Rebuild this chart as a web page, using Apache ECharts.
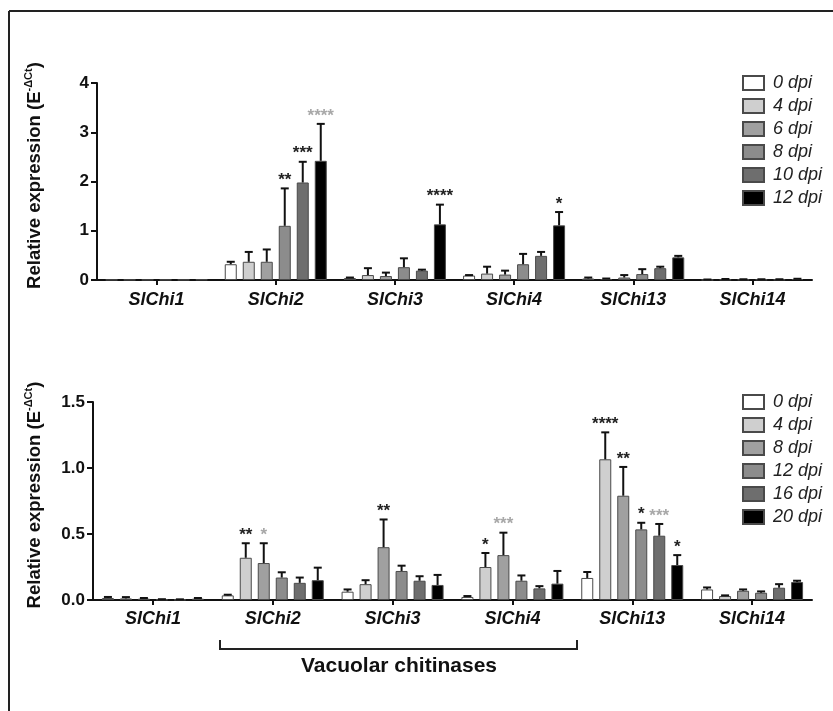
<!DOCTYPE html>
<html>
<head>
<meta charset="utf-8">
<script src="https://cdn.jsdelivr.net/npm/echarts@6/dist/echarts.min.js"></script>
<style>html,body{margin:0;padding:0;background:#fff;}#chart{width:833px;height:711px;}</style>
</head>
<body>
<div id="chart"></div>
<script>
const categories = ['SlChi1', 'SlChi2', 'SlChi3', 'SlChi4', 'SlChi13', 'SlChi14'];

const topSeriesNames = ['0 dpi', '4 dpi', '6 dpi', '8 dpi', '10 dpi', '12 dpi'];
const topValues = [
  [0.005, 0.32, 0.04, 0.09, 0.03, 0.005],
  [0.005, 0.37, 0.10, 0.13, 0.02, 0.01],
  [0.005, 0.37, 0.08, 0.11, 0.05, 0.01],
  [0.005, 1.10, 0.26, 0.32, 0.12, 0.01],
  [0.005, 1.98, 0.19, 0.49, 0.24, 0.01],
  [0.01, 2.42, 1.13, 1.11, 0.46, 0.02]
];
const topErrors = [
  [0, 0.05, 0.01, 0.01, 0.02, 0.005],
  [0, 0.20, 0.14, 0.14, 0.01, 0.01],
  [0, 0.25, 0.07, 0.08, 0.05, 0.005],
  [0, 0.76, 0.18, 0.21, 0.10, 0.005],
  [0, 0.42, 0.02, 0.08, 0.03, 0.005],
  [0, 0.75, 0.40, 0.27, 0.03, 0.005]
];
const topStars = [
  {series: 3, cat: 1, text: '**', gray: false},
  {series: 4, cat: 1, text: '***', gray: false},
  {series: 5, cat: 1, text: '****', gray: true},
  {series: 5, cat: 2, text: '****', gray: false},
  {series: 5, cat: 3, text: '*', gray: false}
];

const bottomSeriesNames = ['0 dpi', '4 dpi', '8 dpi', '12 dpi', '16 dpi', '20 dpi'];
const bottomValues = [
  [0.015, 0.035, 0.063, 0.023, 0.167, 0.08],
  [0.012, 0.32, 0.12, 0.25, 1.066, 0.03],
  [0.01, 0.28, 0.40, 0.34, 0.79, 0.07],
  [0.004, 0.17, 0.22, 0.146, 0.535, 0.055],
  [0.003, 0.13, 0.146, 0.088, 0.487, 0.093],
  [0.01, 0.15, 0.114, 0.124, 0.265, 0.136]
];
const bottomErrors = [
  [0.008, 0.005, 0.017, 0.007, 0.045, 0.015],
  [0.01, 0.11, 0.03, 0.106, 0.204, 0.005],
  [0.005, 0.15, 0.21, 0.17, 0.218, 0.01],
  [0.002, 0.04, 0.04, 0.04, 0.05, 0.01],
  [0.002, 0.04, 0.034, 0.017, 0.089, 0.027],
  [0.005, 0.095, 0.076, 0.096, 0.075, 0.01]
];
const bottomStars = [
  {series: 1, cat: 1, text: '**', gray: false},
  {series: 2, cat: 1, text: '*', gray: true},
  {series: 2, cat: 2, text: '**', gray: false},
  {series: 1, cat: 3, text: '*', gray: false},
  {series: 2, cat: 3, text: '***', gray: true},
  {series: 1, cat: 4, text: '****', gray: false},
  {series: 2, cat: 4, text: '**', gray: false},
  {series: 3, cat: 4, text: '*', gray: false},
  {series: 4, cat: 4, text: '***', gray: true},
  {series: 5, cat: 4, text: '*', gray: false}
];

const topTicks = {min: 0, max: 4, interval: 1};
const bottomTicks = {min: 0, max: 1.5, interval: 0.5};

const barColors = ['#ffffff', '#cfcfcf', '#a0a0a0', '#8c8c8c', '#6e6e6e', '#000000'];
const FONT = 'Liberation Sans, Arial, sans-serif';
const BAR_W = 12, BAR_STEP = 18;

function barSeries(names, values, prefix, axisIdx) {
  return names.map((n, i) => ({
    type: 'bar',
    name: prefix + n,
    xAxisIndex: axisIdx, yAxisIndex: axisIdx,
    barWidth: BAR_W,
    barGap: '50%',
    data: values[i],
    itemStyle: {color: barColors[i], borderColor: '#4a4a4a', borderWidth: 1},
    emphasis: {disabled: true},
    z: 2
  }));
}

function errSeries(values, errors, stars, axisIdx) {
  const data = [];
  const starList = [];
  values.forEach((row, s) => {
    row.forEach((v, c) => {
      data.push([c, s, v, errors[s][c]]);
      const st = stars.find(o => o.series === s && o.cat === c);
      starList.push(st || null);
    });
  });
  return {
    type: 'custom',
    xAxisIndex: axisIdx, yAxisIndex: axisIdx,
    encode: {x: 0, y: 2},
    data: data,
    z: 5,
    silent: true,
    renderItem: function (params, api) {
      const c = api.value(0), s = api.value(1), v = api.value(2), e = api.value(3);
      const base = api.coord([c, v]);
      const x = base[0] + (s - 2.5) * BAR_STEP;
      const yTop = api.coord([c, v + e])[1];
      const children = [];
      if (e > 0) {
        children.push({type: 'line', shape: {x1: x, y1: base[1], x2: x, y2: yTop}, style: {stroke: '#111', lineWidth: 2}});
        children.push({type: 'line', shape: {x1: x - 4, y1: yTop, x2: x + 4, y2: yTop}, style: {stroke: '#111', lineWidth: 2}});
      }
      const st = starList[params.dataIndex];
      if (st) {
        children.push({type: 'text', style: {text: st.text, x: x, y: yTop - 8, align: 'center', verticalAlign: 'middle',
          font: 'bold 17px ' + FONT, fill: st.gray ? '#a8a8a8' : '#222'}});
      }
      return {type: 'group', children: children};
    }
  };
}

function yAxisCfg(idx, ticks, gap, fmt) {
  return {
    type: 'value', gridIndex: idx,
    min: ticks.min, max: ticks.max, interval: ticks.interval,
    splitLine: {show: false},
    axisLine: {show: true, lineStyle: {color: '#111', width: 2}},
    axisTick: {show: true, length: 6, lineStyle: {color: '#111', width: 2}},
    axisLabel: {color: '#111', fontFamily: FONT, fontWeight: 'bold', fontSize: 17, margin: 8, formatter: fmt},
    name: '{a|Relative expression (E}{b|-ΔCt}{a|)}',
    nameLocation: 'middle', nameGap: gap, nameRotate: 90,
    nameTextStyle: {
      padding: [0, 0, 0, 12],
      rich: {
        a: {fontFamily: FONT, fontWeight: 'bold', fontSize: 18.5, color: '#111', lineHeight: 24},
        b: {fontFamily: FONT, fontWeight: 'bold', fontSize: 11, color: '#111', verticalAlign: 'top', lineHeight: 24, padding: [0, 0, 12, 0]}
      }
    }
  };
}

function xAxisCfg(idx, margin) {
  return {
    type: 'category', gridIndex: idx, data: categories,
    axisLine: {show: true, lineStyle: {color: '#111', width: 2}},
    axisTick: {show: true, alignWithLabel: true, length: 5, lineStyle: {color: '#111', width: 2}},
    axisLabel: {color: '#111', fontFamily: FONT, fontWeight: 'bold', fontStyle: 'italic', fontSize: 18, margin: margin}
  };
}

function legendCfg(names, prefix, top) {
  return {
    orient: 'vertical', left: 737, top: top,
    itemWidth: 21, itemHeight: 14, itemGap: 5,
    icon: 'rect',
    selectedMode: false,
    data: names.map(n => prefix + n),
    formatter: function (name) { return name.slice(prefix.length); },
    textStyle: {fontFamily: FONT, fontStyle: 'italic', fontSize: 18, color: '#222', lineHeight: 18, padding: [0, 0, 0, 4]}
  };
}

const chart = echarts.init(document.getElementById('chart'), null, {renderer: 'canvas'});
const option = {
  animation: false,
  backgroundColor: '#fff',
  grid: [
    {left: 97, right: 21, top: 83, height: 197, outerBoundsMode: 'none'},
    {left: 93, right: 21, top: 402, height: 198, outerBoundsMode: 'none'}
  ],
  xAxis: [xAxisCfg(0, 11), xAxisCfg(1, 10)],
  yAxis: [
    yAxisCfg(0, topTicks, 50, v => String(v)),
    yAxisCfg(1, bottomTicks, 46, v => v.toFixed(1))
  ],
  legend: [legendCfg(topSeriesNames, 'A:', 69), legendCfg(bottomSeriesNames, 'B:', 388)],
  series: [].concat(
    barSeries(topSeriesNames, topValues, 'A:', 0),
    [errSeries(topValues, topErrors, topStars, 0)],
    barSeries(bottomSeriesNames, bottomValues, 'B:', 1),
    [errSeries(bottomValues, bottomErrors, bottomStars, 1)]
  ),
  graphic: [
    {type: 'line', shape: {x1: 9, y1: 11, x2: 833, y2: 11}, style: {stroke: '#222', lineWidth: 2}, silent: true},
    {type: 'line', shape: {x1: 9, y1: 11, x2: 9, y2: 711}, style: {stroke: '#222', lineWidth: 2}, silent: true},
    {type: 'polyline', shape: {points: [[220, 640], [220, 649], [577, 649], [577, 640]]}, style: {stroke: '#222', lineWidth: 2, fill: null}, silent: true},
    {type: 'text', x: 399, y: 666, style: {text: 'Vacuolar chitinases', align: 'center', verticalAlign: 'middle', font: 'bold 21px ' + FONT, fill: '#111'}, silent: true}
  ]
};
chart.setOption(option);
</script>
</body>
</html>
